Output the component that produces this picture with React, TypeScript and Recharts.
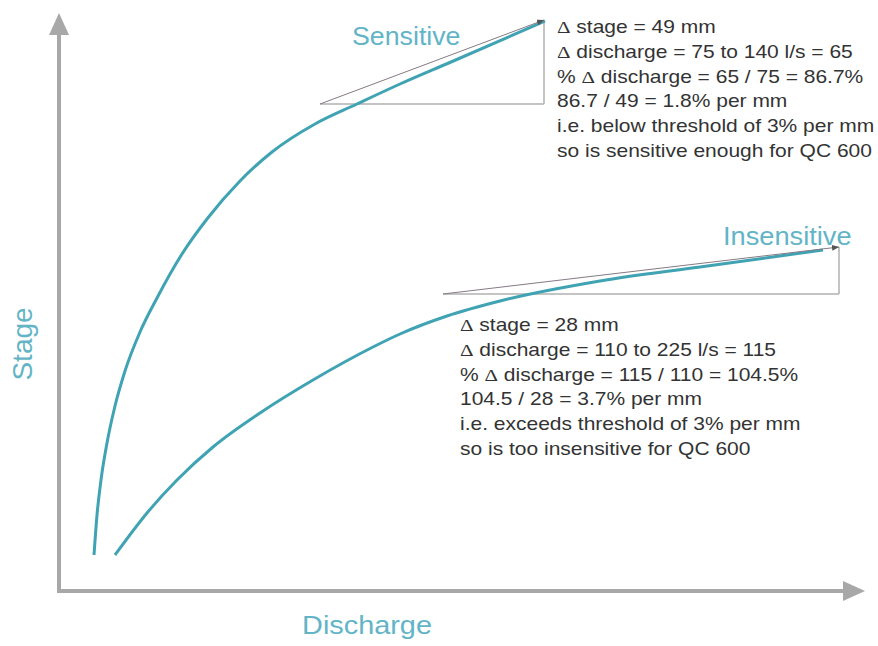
import { ComposedChart, Line, XAxis, YAxis, ReferenceLine, Customized } from 'recharts';

// Curves, in plot units (discharge right, stage up)
const sensitiveDischarge = [34, 37, 41, 47, 55, 65, 80, 97, 122, 147, 180, 212, 255, 297, 340, 391, 485];
const sensitiveStage = [35, 75, 110, 147, 184, 219, 258, 292, 336, 371, 409, 438, 466, 486, 506, 528, 569];

const insensitiveDischarge = [55, 87, 117, 153, 200, 253, 313, 340, 387, 440, 540, 640, 763];
const insensitiveStage = [35, 77, 110, 143, 177, 210, 243, 256, 274, 289, 309, 323, 340];

// Slope triangles: [discharge start, discharge end], [stage low, stage high]
const sensitiveRun = [260, 484];
const sensitiveRise = [486, 570];
const insensitiveRun = [383, 779];
const insensitiveRise = [296, 343];

const sensitiveNotes = [
  'Δ stage = 49 mm',
  'Δ discharge = 75 to 140 l/s = 65',
  '% Δ discharge = 65 / 75 = 86.7%',
  '86.7 / 49 = 1.8% per mm',
  'i.e. below threshold of 3% per mm',
  'so is sensitive enough for QC 600',
];

const insensitiveNotes = [
  'Δ stage = 28 mm',
  'Δ discharge = 110 to 225 l/s = 115',
  '% Δ discharge = 115 / 110 = 104.5%',
  '104.5 / 28 = 3.7% per mm',
  'i.e. exceeds threshold of 3% per mm',
  'so is too insensitive for QC 600',
];

const toPoints = (xs: number[], ys: number[]) => xs.map((x, i) => ({ discharge: x, stage: ys[i] }));

const TEAL = '#3fa3b3';
const LABEL = '#62b4c6';
const AXIS = '#a8a8a8';
const SANS = '"Liberation Sans", Arial, sans-serif';

function segLine(stroke: string, width: number, marker?: string) {
  return (p: any) => (
    <line
      x1={p.x1}
      y1={p.y1}
      x2={p.x2}
      y2={p.y2}
      stroke={stroke}
      strokeWidth={width}
      markerEnd={marker ? `url(#${marker})` : undefined}
    />
  );
}

function NoteLine({ text, y }: { text: string; y: number }) {
  const parts = text.split('Δ');
  return (
    <text x={0} y={y} fontSize={17.5} fill="#333" fontFamily={SANS}>
      {parts.map((part, i) => (
        <tspan key={i}>
          {i > 0 && <tspan fontFamily='"Liberation Serif", serif'>Δ</tspan>}
          {part}
        </tspan>
      ))}
    </text>
  );
}

function Texts() {
  return (
    <g>
      <g transform="translate(557,0) scale(1.2,1)">
        {sensitiveNotes.map((t, i) => (
          <NoteLine key={t} text={t} y={33 + i * 24.8} />
        ))}
      </g>
      <g transform="translate(460,0) scale(1.2,1)">
        {insensitiveNotes.map((t, i) => (
          <NoteLine key={t} text={t} y={331 + i * 24.8} />
        ))}
      </g>
      <g transform="translate(352,45) scale(1.07,1)">
        <text fontSize={25} fill={LABEL} fontFamily={SANS}>Sensitive</text>
      </g>
      <g transform="translate(723,245) scale(1.09,1)">
        <text fontSize={25} fill={LABEL} fontFamily={SANS}>Insensitive</text>
      </g>
      <g transform="translate(367,634) scale(1.11,1)">
        <text fontSize={26} fill={LABEL} fontFamily={SANS} textAnchor="middle">Discharge</text>
      </g>
      <text
        transform="translate(32,344) rotate(-90)"
        fontSize={28}
        fill={LABEL}
        fontFamily={SANS}
        textAnchor="middle"
      >
        Stage
      </text>
    </g>
  );
}

export default function App() {
  const sensitive = toPoints(sensitiveDischarge, sensitiveStage);
  const insensitive = toPoints(insensitiveDischarge, insensitiveStage);

  return (
    <div style={{ position: 'absolute', left: 0, top: 0, width: 878, height: 646, background: '#fff' }}>
      <svg width={0} height={0} style={{ position: 'absolute' }}>
        <defs>
          <marker id="axisArrow" markerUnits="userSpaceOnUse" markerWidth={22} markerHeight={20} refX={0} refY={10} orient="auto">
            <path d="M0,0 L22,10 L0,20 z" fill={AXIS} />
          </marker>
          <marker id="smallArrow" markerUnits="userSpaceOnUse" markerWidth={7} markerHeight={6} refX={7} refY={3} orient="auto">
            <path d="M0,0 L7,3 L0,6 z" fill="#555" />
          </marker>
        </defs>
      </svg>
      <ComposedChart width={878} height={646} margin={{ top: 15, right: 18, bottom: 56, left: 60 }}>
        <XAxis type="number" dataKey="discharge" domain={[0, 800]} hide />
        <YAxis type="number" dataKey="stage" domain={[0, 575]} hide />

        {/* axes with arrow heads */}
        <ReferenceLine
          segment={[{ x: 0, y: -1 }, { x: 783, y: -1 }]}
          ifOverflow="visible"
          shape={segLine(AXIS, 4, 'axisArrow')}
        />
        <ReferenceLine
          segment={[{ x: -1, y: -3 }, { x: -1, y: 555 }]}
          ifOverflow="visible"
          shape={segLine(AXIS, 4, 'axisArrow')}
        />

        {/* slope triangles */}
        <ReferenceLine
          segment={[{ x: sensitiveRun[0], y: sensitiveRise[0] }, { x: sensitiveRun[1], y: sensitiveRise[0] }]}
          ifOverflow="visible"
          shape={segLine('#b0b0b0', 1.5)}
        />
        <ReferenceLine
          segment={[{ x: sensitiveRun[1], y: sensitiveRise[0] }, { x: sensitiveRun[1], y: sensitiveRise[1] }]}
          ifOverflow="visible"
          shape={segLine('#b0b0b0', 1.5)}
        />
        <ReferenceLine
          segment={[{ x: insensitiveRun[0], y: insensitiveRise[0] }, { x: insensitiveRun[1], y: insensitiveRise[0] }]}
          ifOverflow="visible"
          shape={segLine('#b0b0b0', 1.5)}
        />
        <ReferenceLine
          segment={[{ x: insensitiveRun[1], y: insensitiveRise[0] }, { x: insensitiveRun[1], y: insensitiveRise[1] }]}
          ifOverflow="visible"
          shape={segLine('#b0b0b0', 1.5)}
        />

        <Line
          data={sensitive}
          dataKey="stage"
          type="monotone"
          stroke={TEAL}
          strokeWidth={3}
          dot={false}
          isAnimationActive={false}
        />
        <Line
          data={insensitive}
          dataKey="stage"
          type="monotone"
          stroke={TEAL}
          strokeWidth={3}
          dot={false}
          isAnimationActive={false}
        />

        {/* hypotenuses drawn over the curves */}
        <ReferenceLine
          segment={[{ x: sensitiveRun[0], y: sensitiveRise[0] }, { x: sensitiveRun[1], y: sensitiveRise[1] }]}
          ifOverflow="visible"
          shape={segLine('#857a84', 1, 'smallArrow')}
        />
        <ReferenceLine
          segment={[{ x: insensitiveRun[0], y: insensitiveRise[0] }, { x: insensitiveRun[1], y: insensitiveRise[1] }]}
          ifOverflow="visible"
          shape={segLine('#857a84', 1, 'smallArrow')}
        />

        <Customized component={<Texts />} />
      </ComposedChart>
    </div>
  );
}
